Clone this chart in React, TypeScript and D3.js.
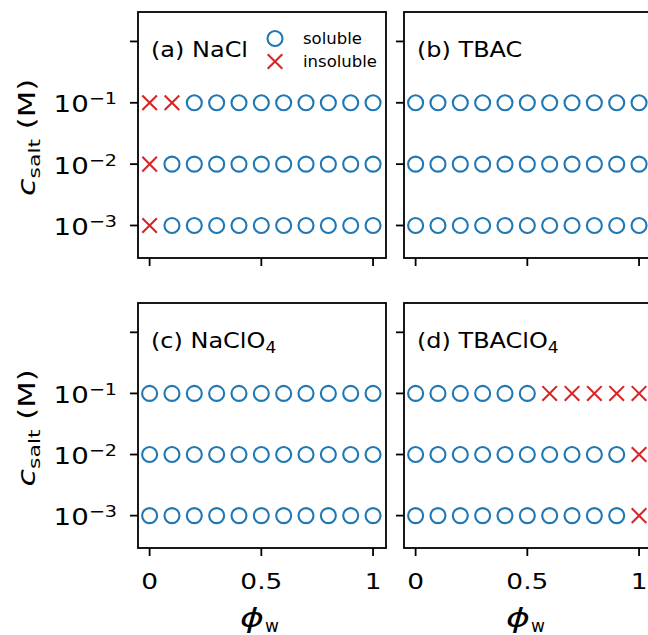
import React from 'react';
import * as d3 from 'd3';

// water fraction sampled in every panel
const phiW = [0, 0.1, 0.2, 0.3, 0.4, 0.5, 0.6, 0.7, 0.8, 0.9, 1.0];
// salt concentrations (M)
const cSalt = [1e-1, 1e-2, 1e-3];

const panelTags = ['(a)', '(b)', '(c)', '(d)'];
const saltNames = ['NaCl', 'TBAC', 'NaClO', 'TBAClO'];
const saltSubs = ['', '', '4', '4'];

// phi_w values where the polymer was insoluble, one row per concentration
const naclInsoluble = [[0, 0.1], [0], [0]];
const tbacInsoluble = [[], [], []];
const naclo4Insoluble = [[], [], []];
const tbaclo4Insoluble = [[0.6, 0.7, 0.8, 0.9, 1.0], [1.0], [1.0]];
const insoluble = [naclInsoluble, tbacInsoluble, naclo4Insoluble, tbaclo4Insoluble];

const yTicks = [1, 1e-1, 1e-2, 1e-3];
const yTickExp = ['', '−1', '−2', '−3'];
const xTicks = [0, 0.5, 1];

const BLUE = '#1f77b4';
const RED = '#d62728';
const FONT = 'DejaVu Sans, sans-serif';

const W = 648, H = 635;
const lefts = [138, 404];
const tops = [12, 303];
const heights = [246, 245];
const pw = 248;

const Circle = ({ x, y }: { x: number; y: number }) => (
  <circle cx={x} cy={y} r={7.5} fill="none" stroke={BLUE} strokeWidth={2.1} />
);
const Cross = ({ x, y }: { x: number; y: number }) => (
  <path d={`M${x - 7.3},${y - 7.3}L${x + 7.3},${y + 7.3}M${x - 7.3},${y + 7.3}L${x + 7.3},${y - 7.3}`}
    stroke={RED} strokeWidth={2.1} fill="none" />
);

const Panel = ({ idx }: { idx: number }) => {
  const col = idx % 2, row = Math.floor(idx / 2);
  const x0 = lefts[col], y0 = tops[row], ph = heights[row];
  const x = d3.scaleLinear().domain([-0.052, 1.058]).range([x0, x0 + pw]);
  const y = d3.scaleLog().domain([Math.pow(10, -3.53), Math.pow(10, 0.48)]).range([y0 + ph, y0]);
  const bad = insoluble[idx];
  const yMid = y0 + ph / 2;
  return (
    <g>
      {cSalt.map((c, ci) =>
        phiW.map((p) =>
          bad[ci].some((b) => Math.abs(b - p) < 1e-6)
            ? <Cross key={`${ci}-${p}`} x={x(p)} y={y(c)} />
            : <Circle key={`${ci}-${p}`} x={x(p)} y={y(c)} />
        )
      )}
      <rect x={x0} y={y0} width={pw} height={ph} fill="none" stroke="#000" strokeWidth={1.8} />
      {yTicks.map((t, i) => (
        <g key={'y' + i}>
          <line x1={x0 - 8} x2={x0} y1={y(t)} y2={y(t)} stroke="#000" strokeWidth={1.8} />
          {col === 0 && yTickExp[i] && (
            <g transform={`translate(${x0 - 21},${y(t) + 9.5}) scale(1.2,1)`}>
              <text fontSize={23} textAnchor="end" fontFamily={FONT}>
                10<tspan dy={-8} fontSize={16}>{yTickExp[i]}</tspan>
              </text>
            </g>
          )}
        </g>
      ))}
      {xTicks.map((t, i) => (
        <g key={'x' + i}>
          <line x1={x(t)} x2={x(t)} y1={y0 + ph} y2={y0 + ph + 8} stroke="#000" strokeWidth={1.8} />
          {row === 1 && (
            <g transform={`translate(${x(t)},${y0 + ph + 40.5}) scale(1.2,1)`}>
              <text fontSize={22} textAnchor="middle" fontFamily={FONT}>
                {d3.format('~g')(t)}
              </text>
            </g>
          )}
        </g>
      ))}
      <g transform={`translate(${x0 + 13},${y0 + 45}) scale(1.09,1)`}>
        <text fontSize={22} fontFamily={FONT}>
          {panelTags[idx]} {saltNames[idx]}
          {saltSubs[idx] && <tspan dy={5} fontSize={15.5}>{saltSubs[idx]}</tspan>}
        </text>
      </g>
      {col === 0 && (
        <g transform={`translate(${x0 - 103},${yMid + 61}) rotate(-90) scale(1.33,1)`}>
          <text fontSize={23} fontFamily={FONT}>
            <tspan fontStyle="italic" fontSize={24}>c</tspan>
            <tspan dy={5} fontSize={16.5}>salt</tspan>
            <tspan dy={-5}> (M)</tspan>
          </text>
        </g>
      )}
      {row === 1 && (
        <g>
          <g transform={`translate(${x0 + 102},627) scale(1.4,1)`}>
            <text fontSize={26} fontStyle="italic" fontFamily={FONT}>ϕ</text>
          </g>
          <text x={x0 + 127} y={632} fontSize={17} fontFamily={FONT}>w</text>
        </g>
      )}
    </g>
  );
};

export default function App() {
  return (
    <svg width={W} height={H} style={{ position: 'absolute', left: 0, top: 0, background: '#fff' }}>
      <rect width={W} height={H} fill="#fff" />
      {[0, 1, 2, 3].map((i) => <Panel key={i} idx={i} />)}
      {/* legend in panel (a) */}
      <Circle x={275} y={38.5} />
      <text x={303} y={44} fontSize={16.5} fontFamily={FONT}>soluble</text>
      <Cross x={275} y={61.5} />
      <text x={303} y={67} fontSize={16.5} fontFamily={FONT}>insoluble</text>
    </svg>
  );
}
